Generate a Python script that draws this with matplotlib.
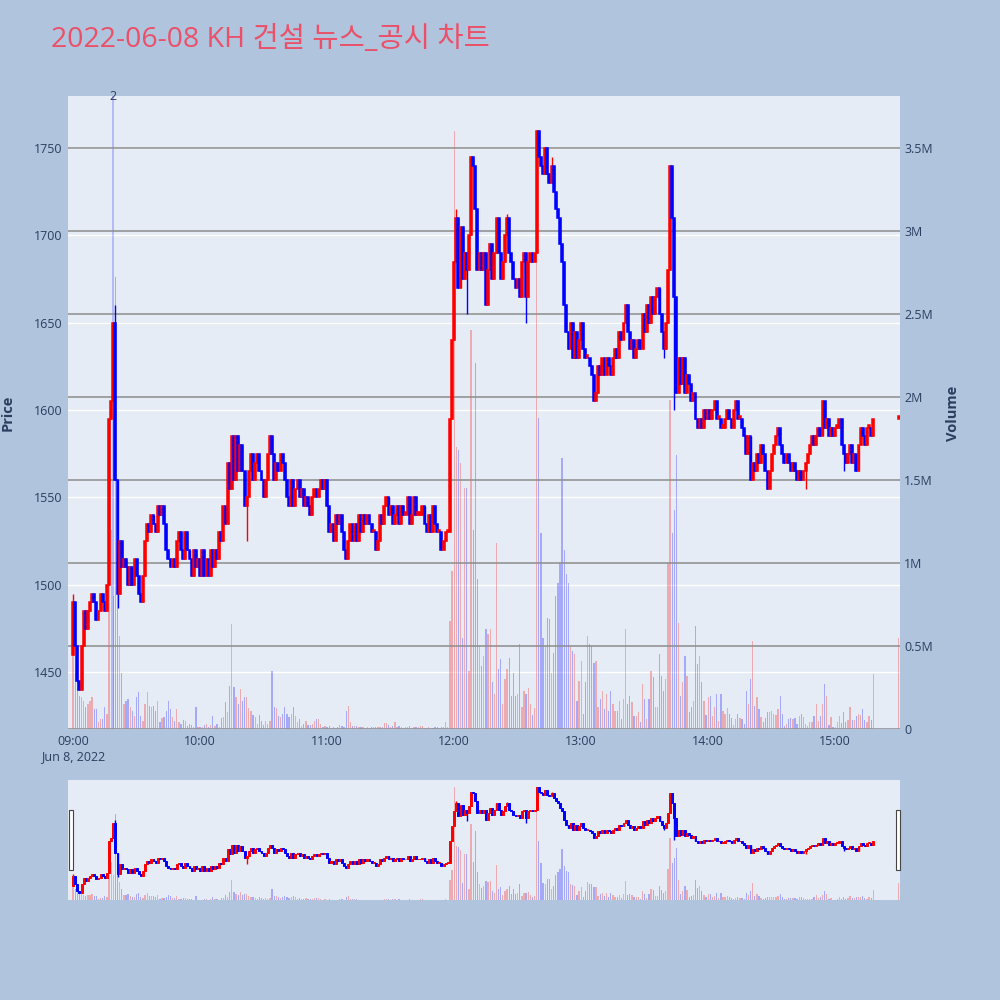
import numpy as np
import matplotlib
matplotlib.use("Agg")
import matplotlib.pyplot as plt
from matplotlib import transforms
from matplotlib.patches import Rectangle

# --- data (1-minute candles, 09:00 .. 15:18, plus 15:30 close) ---
title = "2022-06-08 KH 건설 뉴스_공시 차트"
first_open = 1460
closes = [
    1490, 1465, 1445, 1440, 1465, 1485, 1475, 1485, 1490, 1495,
    1490, 1480, 1485, 1495, 1490, 1485, 1500, 1595, 1605, 1650,
    1560, 1495, 1525, 1510, 1515, 1510, 1500, 1510, 1500, 1515,
    1505, 1495, 1490, 1505, 1525, 1535, 1530, 1540, 1535, 1530,
    1545, 1540, 1545, 1535, 1520, 1515, 1510, 1515, 1510, 1525,
    1530, 1520, 1515, 1530, 1520, 1515, 1505, 1520, 1510, 1515,
    1505, 1520, 1505, 1515, 1505, 1520, 1510, 1520, 1515, 1530,
    1525, 1545, 1535, 1570, 1555, 1585, 1560, 1585, 1565, 1580,
    1565, 1545, 1550, 1565, 1575, 1560, 1570, 1575, 1565, 1560,
    1550, 1560, 1575, 1585, 1575, 1560, 1570, 1565, 1575, 1570,
    1560, 1550, 1545, 1560, 1545, 1555, 1560, 1550, 1555, 1545,
    1550, 1545, 1540, 1550, 1555, 1550, 1555, 1560, 1555, 1560,
    1545, 1530, 1535, 1525, 1540, 1535, 1540, 1530, 1520, 1515,
    1525, 1535, 1525, 1535, 1525, 1540, 1530, 1540, 1535, 1540,
    1535, 1530, 1530, 1520, 1525, 1540, 1535, 1545, 1550, 1540,
    1545, 1535, 1540, 1545, 1535, 1545, 1540, 1540, 1550, 1535,
    1540, 1550, 1540, 1540, 1540, 1545, 1535, 1530, 1540, 1530,
    1545, 1535, 1530, 1530, 1520, 1525, 1530, 1530, 1595, 1640,
    1685, 1710, 1670, 1705, 1675, 1690, 1680, 1700, 1745, 1740,
    1715, 1680, 1690, 1680, 1690, 1660, 1680, 1695, 1675, 1690,
    1710, 1690, 1675, 1685, 1700, 1710, 1690, 1685, 1675, 1670,
    1675, 1665, 1685, 1690, 1665, 1685, 1690, 1685, 1690, 1760,
    1745, 1740, 1735, 1750, 1735, 1730, 1740, 1725, 1715, 1710,
    1695, 1685, 1660, 1645, 1635, 1650, 1630, 1645, 1630, 1640,
    1650, 1635, 1630, 1630, 1625, 1620, 1605, 1610, 1625, 1620,
    1630, 1620, 1630, 1625, 1620, 1630, 1635, 1630, 1645, 1640,
    1650, 1660, 1645, 1635, 1640, 1630, 1635, 1640, 1635, 1655,
    1645, 1660, 1650, 1665, 1655, 1665, 1670, 1655, 1645, 1635,
    1650, 1680, 1740, 1710, 1665, 1610, 1630, 1615, 1630, 1610,
    1620, 1615, 1605, 1610, 1595, 1590, 1595, 1590, 1600, 1595,
    1600, 1595, 1600, 1605, 1595, 1595, 1590, 1590, 1595, 1600,
    1595, 1590, 1600, 1605, 1595, 1595, 1590, 1585, 1575, 1585,
    1560, 1570, 1565, 1575, 1570, 1580, 1575, 1565, 1555, 1565,
    1575, 1580, 1585, 1590, 1580, 1575, 1570, 1575, 1570, 1565,
    1570, 1565, 1560, 1565, 1560, 1565, 1570, 1575, 1580, 1585,
    1580, 1585, 1590, 1585, 1605, 1590, 1595, 1585, 1590, 1585,
    1590, 1590, 1595, 1580, 1575, 1570, 1575, 1580, 1570, 1575,
    1565, 1580, 1590, 1585, 1580, 1590, 1590, 1585, 1595,
]
# volume per minute, millions of shares
volumes_m = [
    0.45, 0.34, 0.30, 0.20, 0.19, 0.17, 0.13, 0.15, 0.17, 0.19,
    0.12, 0.12, 0.045, 0.06, 0.06, 0.13, 0.09, 1.0, 1.2, 0.8,
    2.72, 0.85, 0.56, 0.34, 0.15, 0.17, 0.18, 0.13, 0.11, 0.08,
    0.19, 0.22, 0.08, 0.05, 0.15, 0.22, 0.14, 0.13, 0.14, 0.11,
    0.17, 0.045, 0.065, 0.07, 0.11, 0.17, 0.12, 0.07, 0.05, 0.12,
    0.04, 0.03, 0.055, 0.05, 0.02, 0.03, 0.025, 0.01, 0.13, 0.01,
    0.01, 0.01, 0.025, 0.03, 0.015, 0.025, 0.08, 0.02, 0.03, 0.01,
    0.065, 0.07, 0.16, 0.105, 0.26, 0.63, 0.25, 0.19, 0.15, 0.24,
    0.17, 0.19, 0.19, 0.125, 0.11, 0.085, 0.07, 0.03, 0.085, 0.05,
    0.025, 0.05, 0.03, 0.05, 0.35, 0.13, 0.125, 0.08, 0.075, 0.09,
    0.13, 0.09, 0.07, 0.09, 0.13, 0.08, 0.045, 0.06, 0.02, 0.03,
    0.05, 0.025, 0.025, 0.03, 0.05, 0.06, 0.06, 0.03, 0.01, 0.02,
    0.01, 0.02, 0.005, 0.01, 0.005, 0.01, 0.025, 0.02, 0.01, 0.11,
    0.14, 0.045, 0.02, 0.02, 0.02, 0.01, 0.01, 0.01, 0.005, 0.01,
    0.005, 0.01, 0.01, 0.01, 0.01, 0.01, 0.01, 0.035, 0.035, 0.025,
    0.015, 0.02, 0.045, 0.015, 0.02, 0.01, 0.005, 0.01, 0.01, 0.02,
    0.005, 0.015, 0.01, 0.01, 0.02, 0.02, 0.005, 0.005, 0.01, 0.005,
    0.005, 0.01, 0.01, 0.005, 0.01, 0.01, 0.045, 0.01, 0.65, 0.95,
    3.6, 1.7, 1.68, 1.6, 0.55, 1.45, 1.45, 0.35, 2.4, 1.2,
    2.2, 0.9, 0.5, 0.38, 0.44, 0.6, 0.57, 0.6, 0.28, 0.21,
    1.12, 0.36, 0.42, 0.15, 0.3, 0.36, 0.43, 0.2, 0.34, 0.2,
    0.21, 0.51, 0.13, 0.23, 0.21, 0.245, 0.15, 0.085, 0.125, 3.6,
    1.87, 1.18, 0.55, 0.5, 0.67, 0.66, 0.34, 0.46, 0.8, 0.88,
    1.0, 1.63, 1.08, 0.93, 0.88, 0.5, 0.47, 0.45, 0.17, 0.29,
    0.41, 0.09, 0.285, 0.56, 0.51, 0.5, 0.4, 0.41, 0.13, 0.18,
    0.23, 0.12, 0.21, 0.11, 0.23, 0.15, 0.11, 0.11, 0.17, 0.06,
    0.18, 0.6, 0.15, 0.2, 0.16, 0.08, 0.08, 0.1, 0.04, 0.27,
    0.18, 0.06, 0.18, 0.35, 0.31, 0.13, 0.13, 0.45, 0.32, 0.23,
    0.3, 1.0, 1.98, 1.18, 1.32, 1.65, 0.64, 0.2, 0.28, 0.44,
    0.32, 0.1, 0.13, 0.17, 0.62, 0.39, 0.44, 0.28, 0.17, 0.085,
    0.19, 0.2, 0.08, 0.13, 0.21, 0.05, 0.21, 0.11, 0.09, 0.125,
    0.09, 0.065, 0.025, 0.06, 0.09, 0.065, 0.06, 0.03, 0.23, 0.15,
    0.3, 0.53, 0.14, 0.19, 0.12, 0.07, 0.04, 0.065, 0.1, 0.105,
    0.11, 0.09, 0.085, 0.12, 0.2, 0.09, 0.02, 0.03, 0.06, 0.065,
    0.06, 0.065, 0.03, 0.08, 0.09, 0.07, 0.03, 0.02, 0.045, 0.045,
    0.08, 0.15, 0.05, 0.08, 0.15, 0.27, 0.2, 0.025, 0.07, 0.01,
    0.01, 0.04, 0.08, 0.035, 0.105, 0.045, 0.055, 0.13, 0.055, 0.055,
    0.08, 0.09, 0.085, 0.12, 0.055, 0.045, 0.08, 0.055, 0.33,
]
# visible wicks beyond the candle body
wick_low = {0: 1460, 21: 1487, 82: 1525, 175: 1520, 186: 1655, 214: 1650,
            279: 1630, 284: 1600, 346: 1555, 364: 1565}
wick_high = {0: 1495, 20: 1660, 181: 1715, 205: 1712, 226: 1745}

auction_minute = 390      # 15:30 single-price close
auction_close = 1595
auction_volume_m = 0.55
news_minute = 19          # news/disclosure marker
news_count = "2"

hour_ticks = [0, 60, 120, 180, 240, 300, 360]
hour_labels = ["09:00\nJun 8, 2022", "10:00", "11:00", "12:00", "13:00", "14:00", "15:00"]
price_ticks = [1450, 1500, 1550, 1600, 1650, 1700, 1750]
volume_ticks = [0, 0.5e6, 1e6, 1.5e6, 2e6, 2.5e6, 3e6, 3.5e6]
volume_labels = ["0", "0.5M", "1M", "1.5M", "2M", "2.5M", "3M", "3.5M"]

# --- derived candle arrays ---
minutes = np.array(list(range(len(closes))) + [auction_minute])
c = np.array(closes + [auction_close], dtype=float)
o = np.concatenate([[first_open], c[:-1]])
vol = np.array(volumes_m + [auction_volume_m]) * 1e6
up = c >= o
candle_col = np.where(up, "#FF0000", "#0000FF")
body_bot = np.minimum(o, c)
body_h = np.maximum(np.abs(c - o), 1.5)
hi = np.maximum(o, c)
lo = np.minimum(o, c)
for k, v in wick_low.items():
    lo[k] = v
for k, v in wick_high.items():
    hi[k] = v

BG = "#b0c4de"
PLOT_BG = "#e5ecf6"
TXT = "#2a3f5f"
XLIM = (-2.4, 390.6)
PLIM = (1417.5, 1779.8)
VLIM = (0, 3.81e6)

plt.rcParams["font.family"] = ["Open Sans", "Noto Sans CJK KR", "DejaVu Sans"]

fig = plt.figure(figsize=(10, 10), dpi=100, facecolor=BG)


def draw(ax_v, ax_p, main=True):
    ax_v.set_facecolor(PLOT_BG)
    ax_v.bar(minutes, vol, width=0.6, color=candle_col, alpha=0.28, linewidth=0, zorder=1)
    ax_p.vlines(minutes, lo, hi, colors=candle_col, linewidth=1.0, zorder=2)
    ax_p.bar(minutes, body_h, bottom=body_bot, width=0.9, color=candle_col,
             edgecolor=candle_col, linewidth=1.1 if main else 0.7, zorder=3)
    ax_v.set_xlim(*XLIM)
    ax_v.set_ylim(*VLIM)
    ax_p.set_ylim(*PLIM)
    for a in (ax_v, ax_p):
        for s in a.spines.values():
            s.set_visible(False)


# main chart: volume axis underneath (right), price twin on top (left)
ax_v = fig.add_axes([0.068, 0.271, 0.832, 0.633])
ax_p = ax_v.twinx()
draw(ax_v, ax_p)

# white price grid under the bars
blend = transforms.blended_transform_factory(ax_v.transAxes, ax_p.transData)
for p in price_ticks:
    ax_v.plot([0, 1], [p, p], transform=blend, color="white", lw=1.0, zorder=0.5)

ax_v.yaxis.tick_right()
ax_v.set_yticks(volume_ticks)
ax_v.set_yticklabels(volume_labels)
ax_v.grid(axis="y", color="#8c8c8c", lw=1.1)
ax_v.tick_params(axis="y", length=0, pad=3, labelsize=9, labelcolor=TXT)
ax_v.set_xticks(hour_ticks)
ax_v.set_xticklabels(hour_labels, linespacing=1.25)
ax_v.tick_params(axis="x", length=0, pad=4, labelsize=9, labelcolor=TXT)

ax_p.yaxis.tick_left()
ax_p.set_yticks(price_ticks)
ax_p.tick_params(axis="y", length=0, pad=4, labelsize=9, labelcolor=TXT)

# news marker
ax_v.axvline(news_minute, color="#0000FF", alpha=0.25, lw=1.2, zorder=1)
ax_v.text(news_minute, 1.0, news_count, transform=transforms.blended_transform_factory(ax_v.transData, ax_v.transAxes),
          ha="center", va="center", fontsize=9, color=TXT, zorder=5)

fig.text(0.008, 0.587, "Price", rotation=90, ha="center", va="center",
         fontsize=10.5, fontweight="bold", color=TXT)
fig.text(0.953, 0.587, "Volume", rotation=90, ha="center", va="center",
         fontsize=10.5, fontweight="bold", color=TXT)
fig.text(0.051, 0.960, title, ha="left", va="center", fontsize=20.5, color="#EB5069")

# range slider below
ax_sv = fig.add_axes([0.068, 0.100, 0.832, 0.120])
ax_sp = ax_sv.twinx()
draw(ax_sv, ax_sp, main=False)
for a in (ax_sv, ax_sp):
    a.set_xticks([])
    a.set_yticks([])
for xh in (0.069, 0.8955):
    fig.patches.append(Rectangle((xh, 0.130), 0.004, 0.060, transform=fig.transFigure,
                                 facecolor="white", edgecolor="#444444", lw=0.8, zorder=10))

fig.savefig("out.png", dpi=100, facecolor=BG)
